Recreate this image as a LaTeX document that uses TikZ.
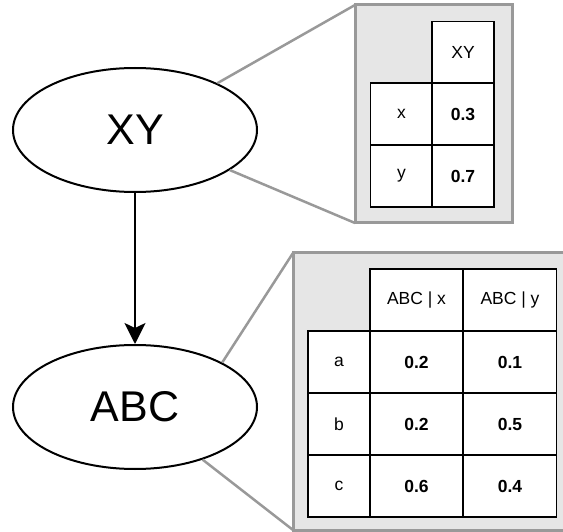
\documentclass[tikz,border=0pt]{standalone}
\usepackage{fontspec}
\setmainfont{Liberation Sans}
\usetikzlibrary{arrows.meta,shapes.geometric}

\definecolor{panelfill}{HTML}{E6E6E6}
\definecolor{panelline}{HTML}{999999}

\tikzset{
  var/.style={ellipse, draw=black, line width=2pt, fill=white,
    minimum width=244pt, minimum height=124pt, inner sep=0pt,
    font=\fontsize{43}{48}\selectfont},
  panel/.style={draw=panelline, fill=panelfill, line width=3pt},
  link/.style={draw=panelline, line width=2.5pt},
  cell/.style={draw=black, fill=white, line width=1.3pt, inner sep=0pt, outer sep=0pt,
    minimum height=62pt, font=\fontsize{17.5}{20}\selectfont},
  narrow/.style={cell, minimum width=62pt},
  wide/.style={cell, minimum width=93pt},
  val/.style={font=\fontsize{17.5}{20}\selectfont\bfseries},
  edge/.style={line width=2pt, -{Stealth[length=21pt,width=21pt,inset=5pt]}}
}

\begin{document}
\begin{tikzpicture}[x=1pt,y=-1pt]
\useasboundingbox (0,0) rectangle (563,532);
\clip (0,0) rectangle (563,532);

% variables
\node[var] (xy) at (135,130) {XY};
\node[var] (abc) at (135,407) {ABC};

% probability panels (background)
\coordinate (p1nw) at (355,5);
\coordinate (p1sw) at (355,223);
\coordinate (p2nw) at (293,253);
\coordinate (p2sw) at (293,530);

\draw[link] (p1nw) -- (xy);
\draw[link] (p1sw) -- (xy);
\draw[link] (p2nw) -- (abc.27);
\draw[link] (p2sw) -- (abc);

\draw[panel] (355,5) rectangle (512,223);
\draw[panel] (293,253) rectangle (620,530);

% table for XY
\node[narrow] (t1h)  at (463,52.5) {XY};
\node[narrow] (t1x)  at (401.5,114) {x};
\node[narrow, val] (t1x1) at (463,114) {0.3};
\node[narrow] (t1y)  at (401.5,176) {y};
\node[narrow, val] (t1y1) at (463,176) {0.7};

% table for ABC
\node[wide] (t2h1) at (416.5,300) {ABC | x};
\node[wide] (t2h2) at (510,300) {ABC | y};
\node[narrow] (t2a) at (339,362) {a};
\node[wide, val] (t2a1) at (416.5,362) {0.2};
\node[wide, val] (t2a2) at (510,362) {0.1};
\node[narrow] (t2b) at (339,424) {b};
\node[wide, val] (t2b1) at (416.5,424) {0.2};
\node[wide, val] (t2b2) at (510,424) {0.5};
\node[narrow] (t2c) at (339,486) {c};
\node[wide, val] (t2c1) at (416.5,486) {0.6};
\node[wide, val] (t2c2) at (510,486) {0.4};

% dependency
\draw[edge] (xy) -- (abc);
\end{tikzpicture}
\end{document}
